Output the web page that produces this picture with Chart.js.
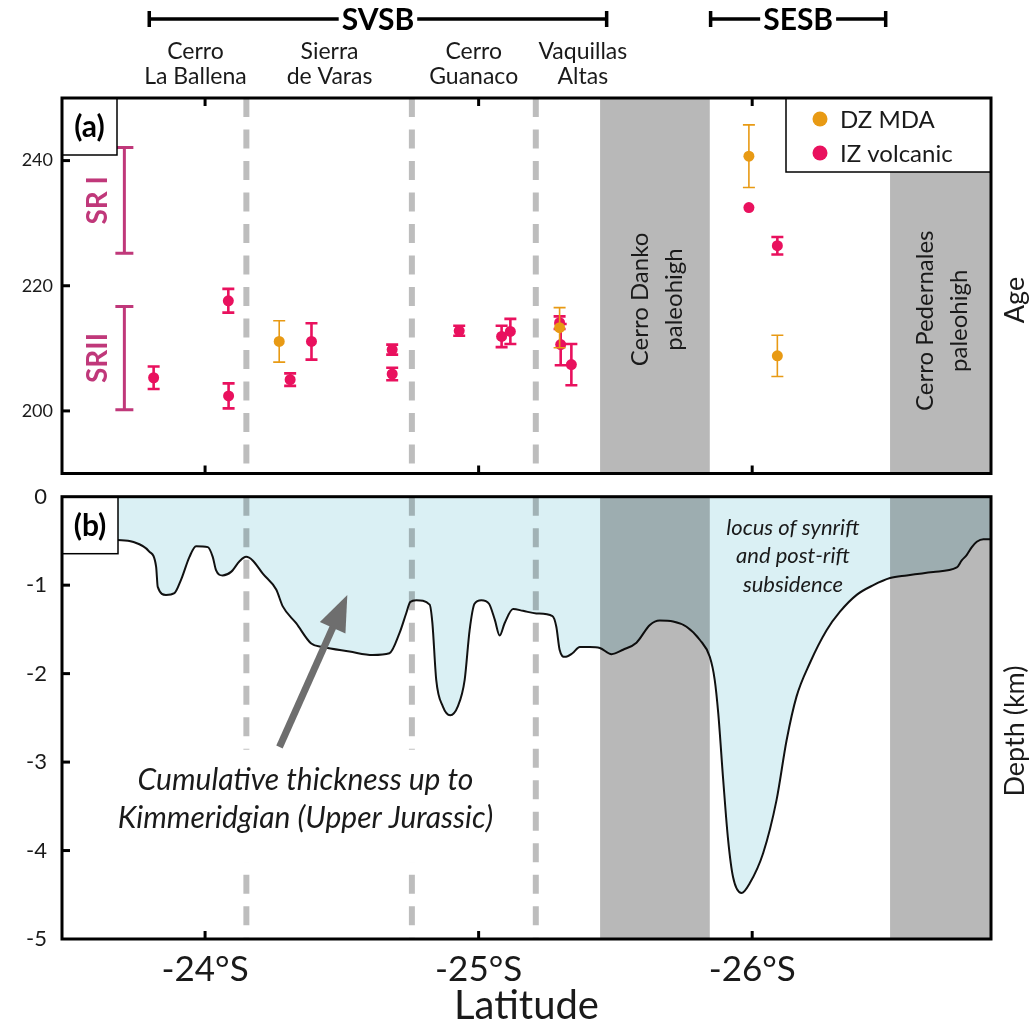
<!DOCTYPE html>
<html><head><meta charset="utf-8">
<script src="https://cdn.jsdelivr.net/npm/chart.js@4.4.1/dist/chart.umd.min.js"></script>
<style>
html,body{margin:0;padding:0;background:#fff;}
#wrap{position:relative;width:1036px;height:1026px;overflow:hidden;background:#fff;}
canvas{position:absolute;left:0;}
#ca{top:0;} #cb{top:480px;}
</style></head><body>
<div id="wrap"><canvas id="ca" width="1036" height="480"></canvas><canvas id="cb" width="1036" height="546"></canvas></div>
<script>
// ---------------- data ----------------
const latTicks = [-24, -25, -26];
const ageTicks = [200, 220, 240];
const depthTicks = [0, -1, -2, -3, -4, -5];

const basinNames = ['SVSB', 'SESB'];
const basinStart = [-23.796, -25.848];
const basinEnd = [-25.468, -26.488];

const regionNames = [['Cerro', 'La Ballena'], ['Sierra', 'de Varas'], ['Cerro', 'Guanaco'], ['Vaquillas', 'Altas']];
const regionLat = [-23.965, -24.455, -24.982, -25.381];

const boundaryLat = [-24.151, -24.756, -25.209];

const paleohighNames = [['Cerro Danko', 'paleohigh'], ['Cerro Pedernales', 'paleohigh']];
const paleohighStart = [-25.444, -26.504];
const paleohighEnd = [-25.845, -26.90];

const srNames = ['SR I', 'SRII'];
const srLat = [-23.705, -23.705];
const srLow = [225.2, 200.2];
const srHigh = [242.1, 216.7];

const dzLat = [-24.271, -25.296, -25.988, -26.092];
const dzAge = [211.1, 213.3, 240.7, 208.8];
const dzErr = [3.3, 3.2, 5.0, 3.3];

const izLat = [-23.812, -24.085, -24.086, -24.311, -24.389, -24.684, -24.684, -24.929, -25.084, -25.116, -25.296, -25.300, -25.339, -25.988, -26.092];
const izAge = [205.3, 217.6, 202.4, 205.0, 211.1, 209.8, 205.9, 212.8, 211.9, 212.7, 214.1, 210.6, 207.4, 232.5, 226.4];
const izErr = [1.8, 1.9, 2.0, 1.0, 2.9, 0.8, 1.0, 0.8, 1.7, 2.0, 1.0, 3.3, 3.3, 0, 1.4];

const depthLat = [-23.474, -23.680, -23.735, -23.796, -23.821, -23.827, -23.857, -23.888, -23.912, -23.943,
  -23.967, -24.010, -24.028, -24.040, -24.064, -24.095, -24.126, -24.150, -24.174, -24.211,
  -24.260, -24.284, -24.333, -24.388, -24.430, -24.528, -24.613, -24.674, -24.711, -24.735,
  -24.750, -24.772, -24.821, -24.831, -24.845, -24.869, -24.896, -24.924, -24.949, -24.967,
  -24.985, -25.010, -25.038, -25.059, -25.077, -25.095, -25.126, -25.162, -25.211, -25.270,
  -25.284, -25.296, -25.315, -25.343, -25.370, -25.406, -25.443, -25.486, -25.528, -25.577,
  -25.626, -25.662, -25.711, -25.760, -25.809, -25.845, -25.863, -25.876, -25.894, -25.912,
  -25.930, -25.961, -25.991, -26.040, -26.089, -26.126, -26.162, -26.211, -26.272, -26.321,
  -26.382, -26.443, -26.504, -26.565, -26.662, -26.748, -26.766, -26.784, -26.803, -26.821,
  -26.845, -26.870];
const depthKm = [-0.46, -0.49, -0.51, -0.62, -0.79, -1.02, -1.11, -1.09, -0.94, -0.68,
  -0.56, -0.57, -0.68, -0.83, -0.89, -0.85, -0.73, -0.68, -0.72, -0.87,
  -1.05, -1.24, -1.43, -1.66, -1.70, -1.75, -1.79, -1.77, -1.54, -1.32,
  -1.19, -1.17, -1.22, -1.43, -2.07, -2.37, -2.47, -2.37, -2.07, -1.51,
  -1.21, -1.17, -1.21, -1.39, -1.57, -1.43, -1.27, -1.29, -1.32, -1.35,
  -1.47, -1.73, -1.81, -1.77, -1.70, -1.70, -1.71, -1.78, -1.73, -1.65,
  -1.45, -1.40, -1.41, -1.47, -1.62, -1.81, -2.07, -2.45, -3.20, -3.88,
  -4.30, -4.48, -4.37, -4.03, -3.43, -2.75, -2.26, -1.88, -1.51, -1.30,
  -1.11, -1.00, -0.92, -0.89, -0.85, -0.80, -0.72, -0.66, -0.57, -0.51,
  -0.48, -0.48];

const noteThickness = ['Cumulative thickness up to', 'Kimmeridgian (Upper Jurassic)'];
const noteLocus = ['locus of synrift', 'and post-rift', 'subsidence'];

// ---------------- style ----------------
const FONT = 'Lato, "Open Sans", sans-serif';
const TXT = '#1a1a1a';
const PINK = '#e9115e';
const ORANGE = '#e89a14';
const SRCOL = '#c0387a';
const BAND = '#b8b8b8';
const DASH = '#bdbdbd';
const FILL = '#daf0f4';
const X_MIN = -26.873, X_MAX = -23.477;

function ticksFrom(arr) { return s => { s.ticks = arr.map(v => ({ value: v })); }; }
function fixV(w) { return s => { s.width = w; s.paddingTop = 0; s.paddingBottom = 0; }; }
function fixH(h) { return s => { s.height = h; s.paddingLeft = 0; s.paddingRight = 0; }; }

function drawBandsAndDashes(chart) {
  const { ctx, chartArea: a, scales: { x } } = chart;
  ctx.fillStyle = BAND;
  for (let i = 0; i < paleohighStart.length; i++) {
    const x1 = Math.max(a.left, Math.min(x.getPixelForValue(paleohighStart[i]), x.getPixelForValue(paleohighEnd[i])));
    const x2 = Math.min(a.right, Math.max(x.getPixelForValue(paleohighStart[i]), x.getPixelForValue(paleohighEnd[i])));
    ctx.fillRect(x1, a.top, x2 - x1, a.bottom - a.top);
  }
  ctx.strokeStyle = DASH; ctx.lineWidth = 6; ctx.setLineDash([19, 12.5]);
  for (const b of boundaryLat) {
    const px = x.getPixelForValue(b);
    ctx.beginPath(); ctx.moveTo(px, a.top); ctx.lineTo(px, a.bottom); ctx.stroke();
  }
  ctx.setLineDash([]);
}

function drawFrameTicks(chart, yTicks, top, bottom) {
  const { ctx, chartArea: a, scales: { x, y } } = chart;
  ctx.strokeStyle = '#000'; ctx.lineWidth = 3;
  ctx.strokeRect(a.left, a.top, a.right - a.left, a.bottom - a.top);
  for (const t of latTicks) {
    const px = x.getPixelForValue(t);
    if (top) { ctx.beginPath(); ctx.moveTo(px, a.top); ctx.lineTo(px, a.top + 8); ctx.stroke(); }
    if (bottom) { ctx.beginPath(); ctx.moveTo(px, a.bottom); ctx.lineTo(px, a.bottom - 8); ctx.stroke(); }
  }
  for (const t of yTicks) {
    const py = y.getPixelForValue(t);
    ctx.beginPath(); ctx.moveTo(a.left, py); ctx.lineTo(a.left + 8, py); ctx.stroke();
  }
}

function labelBox(ctx, a, w, h, txt) {
  ctx.fillStyle = '#fff'; ctx.fillRect(a.left, a.top, w, h);
  ctx.strokeStyle = '#000'; ctx.lineWidth = 1.5; ctx.strokeRect(a.left, a.top, w, h);
  ctx.fillStyle = '#000'; ctx.font = 'bold 30px ' + FONT; ctx.textAlign = 'center'; ctx.textBaseline = 'middle';
  ctx.fillText(txt, a.left + w / 2, a.top + h / 2 + 1);
}

function rotText(ctx, lines, cx, cy, gap) {
  ctx.save(); ctx.translate(cx, cy); ctx.rotate(-Math.PI / 2);
  ctx.textAlign = 'center'; ctx.textBaseline = 'middle';
  const n = lines.length;
  lines.forEach((l, i) => ctx.fillText(l, 0, (i - (n - 1) / 2) * gap));
  ctx.restore();
}

// ---------------- panel (a) ----------------
const plugA = {
  id: 'decorA',
  beforeDatasetsDraw(chart) {
    const { ctx, chartArea: a, scales: { x, y } } = chart;
    ctx.save();
    drawBandsAndDashes(chart);
    ctx.fillStyle = TXT; ctx.font = '24px ' + FONT;
    const labY = [217.8, 214.4];
    for (let i = 0; i < paleohighNames.length; i++) {
      const cx = (Math.max(a.left, Math.min(x.getPixelForValue(paleohighStart[i]), x.getPixelForValue(paleohighEnd[i]))) +
                  Math.min(a.right, Math.max(x.getPixelForValue(paleohighStart[i]), x.getPixelForValue(paleohighEnd[i])))) / 2;
      rotText(ctx, paleohighNames[i], cx + 2, y.getPixelForValue(labY[i]), 34);
    }
    ctx.strokeStyle = SRCOL; ctx.fillStyle = SRCOL; ctx.lineWidth = 3;
    for (let i = 0; i < srNames.length; i++) {
      const px = x.getPixelForValue(srLat[i]);
      const y1 = y.getPixelForValue(srHigh[i]), y2 = y.getPixelForValue(srLow[i]);
      ctx.beginPath();
      ctx.moveTo(px, y1); ctx.lineTo(px, y2);
      ctx.moveTo(px - 9, y1); ctx.lineTo(px + 9, y1);
      ctx.moveTo(px - 9, y2); ctx.lineTo(px + 9, y2);
      ctx.stroke();
      ctx.font = 'bold 28px ' + FONT;
      rotText(ctx, [srNames[i]], px - 26, (y1 + y2) / 2, 0);
    }
    ctx.restore();
  },
  beforeDatasetDraw(chart, args) {
    const { ctx, scales: { y } } = chart;
    const ds = chart.data.datasets[args.index];
    ctx.save();
    ctx.strokeStyle = ds.borderColor; ctx.lineWidth = ds.errWidth;
    args.meta.data.forEach((el, i) => {
      const e = ds.errors[i];
      if (!e) return;
      const v = ds.data[i].y;
      const y1 = y.getPixelForValue(v + e), y2 = y.getPixelForValue(v - e);
      ctx.beginPath();
      ctx.moveTo(el.x, y1); ctx.lineTo(el.x, y2);
      ctx.moveTo(el.x - 6, y1); ctx.lineTo(el.x + 6, y1);
      ctx.moveTo(el.x - 6, y2); ctx.lineTo(el.x + 6, y2);
      ctx.stroke();
    });
    ctx.restore();
  },
  afterDatasetsDraw(chart) {
    const { ctx, chartArea: a } = chart;
    ctx.save();
    const lx = 786, ly = a.top, lw = a.right - 786, lh = 74;
    ctx.fillStyle = '#fff'; ctx.fillRect(lx, ly, lw, lh);
    ctx.strokeStyle = '#000'; ctx.lineWidth = 1.5; ctx.strokeRect(lx, ly, lw, lh);
    ctx.font = '24px ' + FONT; ctx.textAlign = 'left'; ctx.textBaseline = 'middle';
    chart.data.datasets.forEach((ds, i) => {
      const cy = ly + 21 + i * 34;
      ctx.fillStyle = ds.backgroundColor;
      ctx.beginPath(); ctx.arc(lx + 34, cy, 7.5, 0, Math.PI * 2); ctx.fill();
      ctx.fillStyle = TXT; ctx.fillText(ds.label, lx + 54, cy + 1);
    });
    labelBox(ctx, a, 55, 57, '(a)');
    drawFrameTicks(chart, ageTicks, true, true);
    ctx.restore();
  },
  afterDraw(chart) {
    const { ctx, scales: { x } } = chart;
    ctx.save();
    ctx.strokeStyle = '#000'; ctx.fillStyle = '#000'; ctx.lineWidth = 3.5;
    ctx.font = 'bold 30px ' + FONT; ctx.textAlign = 'center'; ctx.textBaseline = 'middle';
    for (let i = 0; i < basinNames.length; i++) {
      const x1 = x.getPixelForValue(basinStart[i]), x2 = x.getPixelForValue(basinEnd[i]);
      const cx = (x1 + x2) / 2, by = 19;
      const w = ctx.measureText(basinNames[i]).width;
      ctx.beginPath();
      ctx.moveTo(x1, by); ctx.lineTo(cx - w / 2 - 3, by);
      ctx.moveTo(cx + w / 2 + 3, by); ctx.lineTo(x2, by);
      ctx.moveTo(x1, by - 8); ctx.lineTo(x1, by + 8);
      ctx.moveTo(x2, by - 8); ctx.lineTo(x2, by + 8);
      ctx.stroke();
      ctx.fillText(basinNames[i], cx, by + 1);
    }
    ctx.fillStyle = TXT; ctx.font = '23px ' + FONT; ctx.textBaseline = 'alphabetic';
    for (let i = 0; i < regionNames.length; i++) {
      const cx = x.getPixelForValue(regionLat[i]);
      ctx.fillText(regionNames[i][0], cx, 59);
      ctx.fillText(regionNames[i][1], cx, 84);
    }
    ctx.font = '27px ' + FONT;
    rotText(ctx, ['Age'], 1015, 300, 0);
    ctx.restore();
  }
};

new Chart(document.getElementById('ca'), {
  type: 'scatter',
  data: {
    datasets: [
      { label: 'DZ MDA', data: dzLat.map((v, i) => ({ x: v, y: dzAge[i] })), errors: dzErr, errWidth: 1.6,
        backgroundColor: ORANGE, borderColor: ORANGE, borderWidth: 0, pointRadius: 5.5, pointHoverRadius: 5.5 },
      { label: 'IZ volcanic', data: izLat.map((v, i) => ({ x: v, y: izAge[i] })), errors: izErr, errWidth: 2.6,
        backgroundColor: PINK, borderColor: PINK, borderWidth: 0, pointRadius: 5.5, pointHoverRadius: 5.5 }
    ]
  },
  options: {
    responsive: false, animation: false, devicePixelRatio: 1, events: [],
    layout: { padding: { left: 0, right: 45, top: 98, bottom: 6.5 } },
    plugins: { legend: { display: false }, tooltip: { enabled: false } },
    scales: {
      x: { type: 'linear', reverse: true, min: X_MIN, max: X_MAX, display: false, afterBuildTicks: ticksFrom(latTicks) },
      y: { type: 'linear', position: 'left', min: 190, max: 250,
        grid: { display: false, drawTicks: false }, border: { display: false },
        afterBuildTicks: ticksFrom(ageTicks), afterFit: fixV(62),
        ticks: { padding: 9, color: TXT, font: { family: FONT, size: 18 } } }
    }
  },
  plugins: [plugA]
});

// ---------------- panel (b) ----------------
const plugB = {
  id: 'decorB',
  afterDatasetsDraw(chart) {
    const { ctx, chartArea: a, scales: { x, y } } = chart;
    ctx.save();
    ctx.beginPath(); ctx.rect(a.left, a.top, a.right - a.left, a.bottom - a.top); ctx.clip();
    ctx.globalCompositeOperation = 'multiply';
    drawBandsAndDashes(chart);
    ctx.globalCompositeOperation = 'source-over';
    ctx.fillStyle = '#fff';
    ctx.fillRect(x.getPixelForValue(-23.63), y.getPixelForValue(-2.86), x.getPixelForValue(-25.10) - x.getPixelForValue(-23.63), y.getPixelForValue(-4.14) - y.getPixelForValue(-2.86));
    const tx = x.getPixelForValue(-24.272), ty = y.getPixelForValue(-2.83);
    const hx = x.getPixelForValue(-24.520), hy = y.getPixelForValue(-1.11);
    const dx = hx - tx, dy = hy - ty, L = Math.hypot(dx, dy), ux = dx / L, uy = dy / L;
    const bx = hx - ux * 36, by = hy - uy * 36;
    ctx.strokeStyle = '#6e6e6e'; ctx.fillStyle = '#6e6e6e'; ctx.lineWidth = 7;
    ctx.beginPath(); ctx.moveTo(tx, ty); ctx.lineTo(bx + ux * 4, by + uy * 4); ctx.stroke();
    ctx.beginPath(); ctx.moveTo(hx, hy); ctx.lineTo(bx - uy * 14, by + ux * 14); ctx.lineTo(bx + uy * 14, by - ux * 14); ctx.closePath(); ctx.fill();
    ctx.fillStyle = TXT; ctx.textAlign = 'center'; ctx.textBaseline = 'alphabetic';
    ctx.font = 'italic 30px ' + FONT;
    const nx = x.getPixelForValue(-24.367);
    ctx.fillText(noteThickness[0], nx, y.getPixelForValue(-3.32));
    ctx.fillText(noteThickness[1], nx, y.getPixelForValue(-3.75));
    ctx.font = 'italic 22px ' + FONT;
    const lx = x.getPixelForValue(-26.149);
    noteLocus.forEach((t, i) => ctx.fillText(t, lx, y.getPixelForValue(-0.43 - i * 0.325)));
    ctx.restore();
    ctx.save();
    labelBox(ctx, a, 56, 57, '(b)');
    drawFrameTicks(chart, depthTicks.slice(1, -1), false, true);
    ctx.fillStyle = TXT; ctx.font = '27px ' + FONT;
    rotText(ctx, ['Depth (km)'], 1015, 731 - 480, 0);
    ctx.restore();
  }
};

new Chart(document.getElementById('cb'), {
  type: 'line',
  data: {
    datasets: [
      { label: 'Depth', data: depthLat.map((v, i) => ({ x: v, y: depthKm[i] })),
        borderColor: '#111', borderWidth: 2, backgroundColor: FILL, fill: 'end',
        pointRadius: 0, cubicInterpolationMode: 'monotone' }
    ]
  },
  options: {
    responsive: false, animation: false, devicePixelRatio: 1, events: [],
    layout: { padding: { left: 0, right: 45, top: 16.7, bottom: 0 } },
    plugins: { legend: { display: false }, tooltip: { enabled: false } },
    scales: {
      x: { type: 'linear', reverse: true, min: X_MIN, max: X_MAX, position: 'bottom',
        grid: { display: false, drawTicks: false }, border: { display: false },
        afterBuildTicks: ticksFrom(latTicks), afterFit: fixH(87),
        ticks: { padding: 10, color: TXT, font: { family: FONT, size: 35 }, maxRotation: 0, callback: v => v + '°S' },
        title: { display: true, text: 'Latitude', color: TXT, font: { family: FONT, size: 40, lineHeight: 1 }, padding: 0 } },
      y: { type: 'linear', position: 'left', min: -5, max: 0,
        grid: { display: false, drawTicks: false }, border: { display: false },
        afterBuildTicks: ticksFrom(depthTicks), afterFit: fixV(62),
        ticks: { padding: 15, color: TXT, font: { family: FONT, size: 22 } } }
    }
  },
  plugins: [plugB]
});
</script>
</body></html>
